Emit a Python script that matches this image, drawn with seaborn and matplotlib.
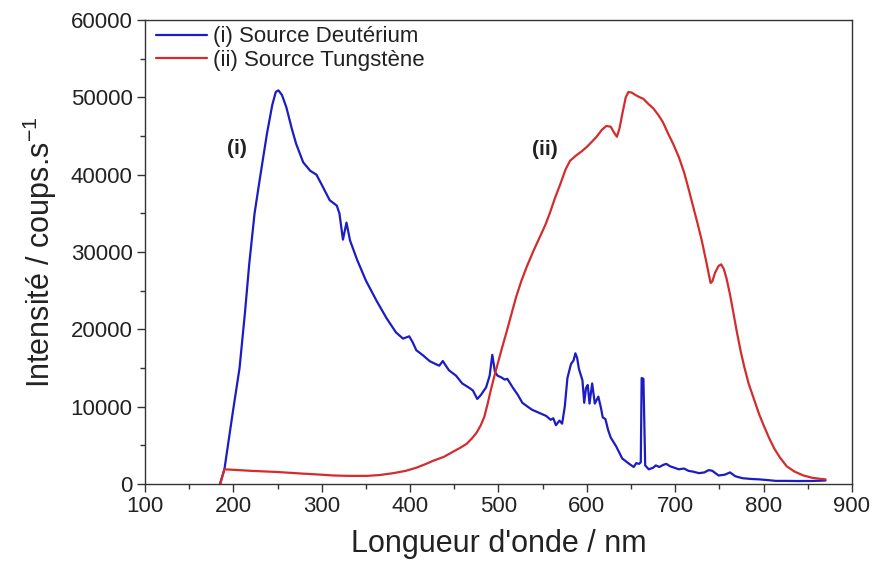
import matplotlib
matplotlib.use("Agg")
import matplotlib.pyplot as plt
from matplotlib.ticker import MultipleLocator
import seaborn as sns
import pandas as pd

# Deuterium lamp spectrum (i)
wl_deut = [185, 190, 199, 207, 213, 218, 224, 230, 238, 244, 248, 251, 255, 260, 266, 271,
           279, 287, 294, 300, 309, 317, 320, 324, 328, 332, 340, 350, 362, 373, 384, 392,
           399, 403, 407, 415, 422, 429, 433, 437, 441, 444, 452, 459, 466, 471, 476, 480,
           486, 490, 493, 496, 499, 503, 507, 510, 516, 522, 527, 533, 538, 546, 554, 559,
           562, 565, 569, 572, 575, 578, 582, 585, 587, 589, 591, 595, 597, 599, 601, 603,
           606, 609, 613, 616, 618, 621, 624, 627, 633, 640, 648, 653, 656, 659, 661, 662,
           664, 666, 670, 675, 678, 682, 687, 690, 694, 699, 704, 710, 715, 720, 727, 733,
           738, 742, 749, 756, 762, 768, 776, 786, 795, 805, 814, 825, 840, 855, 870]
int_deut = [0, 2000, 9000, 15000, 22000, 28500, 35000, 39500, 45300, 49000, 50700, 50900,
            50300, 48700, 46000, 44000, 41600, 40500, 40000, 38700, 36700, 36000, 35000,
            31600, 33800, 31500, 29000, 26300, 23700, 21500, 19600, 18800, 19100, 18300,
            17300, 16600, 15900, 15500, 15300, 15900, 15200, 14700, 14000, 13000, 12500,
            12100, 11000, 11500, 12500, 14000, 16700, 14500, 14000, 13800, 13500, 13600,
            12500, 11500, 10500, 10000, 9600, 9200, 8800, 8300, 8500, 7600, 8200, 7800,
            10000, 13700, 15500, 16000, 16900, 16300, 14900, 13400, 10500, 12400, 12800,
            10400, 13000, 10400, 11300, 9800, 8600, 8400, 7000, 6000, 4900, 3300, 2600,
            2200, 2700, 2600, 2800, 13700, 13600, 2400, 1900, 2100, 2400, 2200, 2500, 2600,
            2300, 2100, 1900, 2000, 1700, 1600, 1400, 1500, 1800, 1700, 1100, 1200, 1500,
            1000, 750, 650, 600, 500, 400, 400, 380, 390, 450]

# Tungsten lamp spectrum (ii)
wl_tung = [185, 190, 220, 250, 277, 300, 313, 330, 351, 365, 381, 395, 407, 418, 426, 438,
           449, 457, 464, 470, 475, 480, 484, 488, 491, 495, 499, 504, 509, 514, 520, 526,
           532, 539, 547, 553, 558, 564, 570, 576, 581, 588, 594, 600, 606, 611, 617, 622,
           627, 631, 634, 637, 640, 644, 647, 651, 655, 660, 664, 670, 675, 681, 686, 692,
           698, 704, 710, 715, 720, 725, 730, 735, 738, 740, 742, 745, 749, 752, 755, 758,
           762, 766, 770, 774, 778, 783, 789, 795, 800, 806, 812, 818, 826, 835, 845, 855,
           865, 870]
int_tung = [0, 1900, 1700, 1550, 1350, 1200, 1100, 1050, 1050, 1150, 1400, 1700, 2100, 2600,
            3000, 3500, 4200, 4700, 5200, 5900, 6600, 7600, 8700, 10500, 12000, 13800, 15500,
            17600, 19600, 21700, 24200, 26300, 28100, 30000, 32000, 33500, 35000, 37000,
            38800, 40700, 41800, 42500, 43000, 43600, 44300, 44900, 45800, 46300, 46200,
            45400, 44900, 46000, 47800, 50000, 50700, 50600, 50300, 50000, 49800, 49100,
            48600, 47700, 46800, 45300, 43900, 42300, 40300, 38200, 36000, 33800, 31500,
            28800, 27100, 26000, 26200, 27300, 28200, 28400, 27800, 26600, 24500, 22000,
            19500, 17200, 15200, 13000, 11000, 9000, 7600, 6000, 4600, 3500, 2300, 1600,
            1100, 800, 650, 600]

series_labels = ["(i) Source Deutérium", "(ii) Source Tungstène"]
series_colors = ["#1c1cc4", "#d42c2c"]

sns.set_theme(style="ticks")
plt.rcParams["font.family"] = ["Liberation Sans", "DejaVu Sans"]
plt.rcParams["mathtext.default"] = "regular"

fig = plt.figure(figsize=(8.75, 5.67), dpi=100)
ax = fig.add_axes([0.1657, 0.1464, 0.808, 0.8183])

deut = pd.DataFrame({"wl": wl_deut, "I": int_deut})
tung = pd.DataFrame({"wl": wl_tung, "I": int_tung})
sns.lineplot(data=deut, x="wl", y="I", ax=ax, color=series_colors[0], lw=1.6,
             label=series_labels[0], sort=False)
sns.lineplot(data=tung, x="wl", y="I", ax=ax, color=series_colors[1], lw=1.6,
             label=series_labels[1], sort=False)

ax.set_xlim(100, 900)
ax.set_ylim(0, 60000)
ax.xaxis.set_major_locator(MultipleLocator(100))
ax.xaxis.set_minor_locator(MultipleLocator(50))
ax.yaxis.set_major_locator(MultipleLocator(10000))
ax.yaxis.set_minor_locator(MultipleLocator(5000))
ax.tick_params(axis="both", which="major", labelsize=16, length=6, width=1,
               color="#333333", labelcolor="#222222", direction="out", pad=3)
ax.tick_params(axis="both", which="minor", length=3.5, width=1, color="#333333")
ax.tick_params(top=False, right=False, which="both")
for side in ax.spines.values():
    side.set_visible(True)
    side.set_color("#333333")
    side.set_linewidth(1.0)

ax.set_xlabel("Longueur d'onde / nm", fontsize=22, color="#222222", labelpad=8)
ax.set_ylabel("Intensité / coups.s$^{-1}$", fontsize=22, color="#222222", labelpad=8)

ax.text(204, 43400, "(i)", fontsize=15, fontweight="bold", ha="center", va="center",
        color="#222222")
ax.text(552, 43200, "(ii)", fontsize=15, fontweight="bold", ha="center", va="center",
        color="#222222")

leg = ax.legend(loc="upper left", frameon=False, fontsize=16, handlelength=2.3,
                handletextpad=0.25, borderaxespad=0.1, labelspacing=0.1,
                bbox_to_anchor=(0.0, 1.01))
for t in leg.get_texts():
    t.set_color("#222222")

fig.savefig("out.png", dpi=100)
